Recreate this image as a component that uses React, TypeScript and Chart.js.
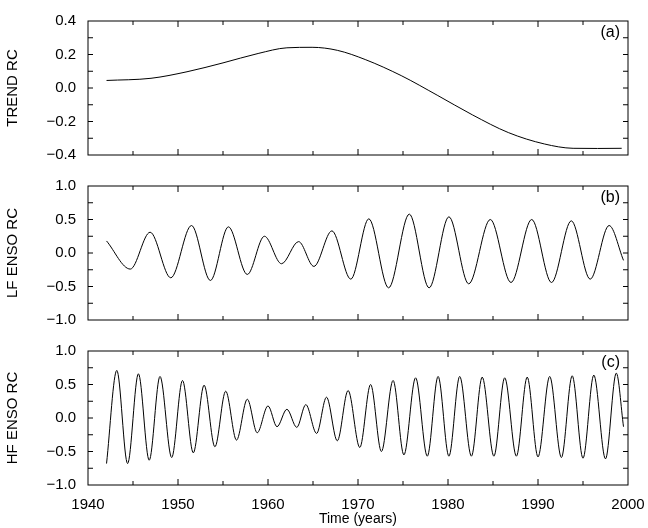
import React, { useRef, useEffect } from 'react';
import Chart from 'chart.js/auto';

// panel (a) trend
const trendYears = [1942.06, 1947.0, 1951.0, 1955.0, 1958.9, 1962.1, 1964.9, 1967.7, 1970.8, 1974.8, 1978.8, 1982.7, 1986.7, 1990.7, 1993.9, 1996.6, 1999.3];
const trendValues = [0.045, 0.058, 0.097, 0.15, 0.206, 0.24, 0.243, 0.225, 0.17, 0.074, -0.043, -0.16, -0.266, -0.334, -0.36, -0.361, -0.36];

// panel (b) low-frequency ENSO, turning points
const lfYears = [1942.06, 1944.7, 1946.9, 1949.2, 1951.5, 1953.6, 1955.6, 1957.7, 1959.6, 1961.5, 1963.4, 1965.1, 1967.1, 1969.2, 1971.2, 1973.4, 1975.7, 1977.9, 1980.1, 1982.3, 1984.7, 1987.0, 1989.3, 1991.5, 1993.7, 1995.8, 1997.9, 1999.5];
const lfValues = [0.18, -0.24, 0.31, -0.37, 0.41, -0.41, 0.39, -0.32, 0.25, -0.16, 0.17, -0.2, 0.33, -0.39, 0.51, -0.52, 0.58, -0.52, 0.54, -0.46, 0.5, -0.44, 0.5, -0.44, 0.48, -0.39, 0.41, -0.11];

// panel (c) high-frequency ENSO, turning points
const hfYears = [1942.06, 1943.2, 1944.4, 1945.6, 1946.8, 1948.0, 1949.3, 1950.5, 1951.7, 1952.9, 1954.1, 1955.3, 1956.5, 1957.7, 1958.8, 1960.0, 1961.0, 1962.1, 1963.2, 1964.2, 1965.4, 1966.5, 1967.7, 1968.9, 1970.2, 1971.4, 1972.6, 1973.9, 1975.1, 1976.4, 1977.7, 1978.9, 1980.1, 1981.3, 1982.6, 1983.8, 1985.1, 1986.3, 1987.6, 1988.8, 1990.0, 1991.3, 1992.6, 1993.8, 1995.0, 1996.2, 1997.5, 1998.7, 1999.5];
const hfValues = [-0.68, 0.71, -0.68, 0.66, -0.63, 0.62, -0.59, 0.56, -0.52, 0.49, -0.43, 0.4, -0.33, 0.28, -0.22, 0.18, -0.13, 0.13, -0.14, 0.2, -0.23, 0.31, -0.34, 0.41, -0.44, 0.5, -0.5, 0.56, -0.55, 0.6, -0.57, 0.62, -0.57, 0.62, -0.57, 0.61, -0.57, 0.6, -0.57, 0.61, -0.58, 0.62, -0.59, 0.63, -0.6, 0.64, -0.61, 0.67, -0.13];

const FONT = '"Liberation Sans", Arial, sans-serif';

const fmt = (v: number) => (v < 0 ? '\u2212' : '') + Math.abs(v).toFixed(1);

const frame = {
  id: 'frame',
  afterDatasetsDraw(chart: any, _a: any, opts: any) {
    const { ctx, chartArea: a, scales } = chart;
    ctx.save();
    ctx.strokeStyle = '#000';
    ctx.lineWidth = 1;
    ctx.strokeRect(a.left, a.top, a.right - a.left, a.bottom - a.top);
    ctx.beginPath();
    for (let yr = 1945; yr < 2000; yr += 5) {
      const x = scales.x.getPixelForValue(yr);
      const len = yr % 10 === 0 ? 6 : 4;
      ctx.moveTo(x, a.bottom); ctx.lineTo(x, a.bottom - len);
      ctx.moveTo(x, a.top); ctx.lineTo(x, a.top + len);
    }
    const { min, max, step } = opts;
    for (let v = min + step; v < max - 1e-9; v += step) {
      const y = scales.y.getPixelForValue(v);
      ctx.moveTo(a.left, y); ctx.lineTo(a.left + 5, y);
      ctx.moveTo(a.right, y); ctx.lineTo(a.right - 5, y);
    }
    ctx.stroke();
    ctx.font = '16px ' + FONT;
    ctx.fillStyle = '#000';
    ctx.textAlign = 'right';
    ctx.textBaseline = 'top';
    ctx.fillText(opts.tag, a.right - 8, a.top + 4);
    ctx.restore();
  },
};

interface PanelProps {
  years: number[];
  values: number[];
  min: number;
  max: number;
  step: number;
  labelStep: number;
  title: string;
  tag: string;
  top: number;
  height: number;
  bottomAxis: boolean;
}

const Panel: React.FC<PanelProps> = (p) => {
  const ref = useRef<HTMLCanvasElement>(null);

  useEffect(() => {
    if (!ref.current) return;
    const chart = new Chart(ref.current, {
      type: 'line',
      data: {
        datasets: [{
          data: p.years.map((x, i) => ({ x, y: p.values[i] })),
          borderColor: '#000',
          borderWidth: 1,
          pointRadius: 0,
          cubicInterpolationMode: 'monotone',
          fill: false,
        }],
      },
      options: {
        animation: false,
        responsive: false,
        layout: { padding: { top: 0, right: 20, bottom: p.bottomAxis ? 0 : 10 } },
        plugins: {
          legend: { display: false },
          tooltip: { enabled: false },
          frame: { min: p.min, max: p.max, step: p.step, tag: p.tag },
        } as any,
        scales: {
          x: {
            type: 'linear',
            min: 1940,
            max: 2000,
            display: p.bottomAxis,
            grid: { display: false },
            border: { display: false },
            ticks: { stepSize: 10, color: '#000', font: { family: FONT, size: 15 }, padding: 3, callback: (v: any) => String(v) },
            title: { display: p.bottomAxis, text: 'Time (years)', color: '#000', font: { family: FONT, size: 14 }, padding: 0 },
            afterFit: (s: any) => { if (p.bottomAxis) s.height = 43; },
          },
          y: {
            min: p.min,
            max: p.max,
            grid: { display: false },
            border: { display: false },
            ticks: { stepSize: p.labelStep, color: '#000', font: { family: FONT, size: 15 }, padding: 4, callback: (v: any) => fmt(Number(v)) },
            title: { display: true, text: p.title, color: '#000', font: { family: FONT, size: 15 }, padding: 4 },
            afterFit: (s: any) => { s.width = 88; },
          },
        },
      },
      plugins: [frame],
    });
    return () => chart.destroy();
  }, []);

  return (
    <canvas
      ref={ref}
      width={648}
      height={p.height}
      style={{ position: 'absolute', left: 0, top: p.top, width: 648, height: p.height }}
    />
  );
};

export default function App() {
  useEffect(() => { document.body.style.margin = '0'; }, []);
  return (
    <div style={{ position: 'relative', width: 648, height: 528, background: '#fff' }}>
      <Panel years={trendYears} values={trendValues} min={-0.4} max={0.4} step={0.1} labelStep={0.2}
        title="TREND RC" tag="(a)" top={8} height={160} bottomAxis={false} />
      <Panel years={lfYears} values={lfValues} min={-1} max={1} step={0.25} labelStep={0.5}
        title="LF ENSO RC" tag="(b)" top={173} height={160} bottomAxis={false} />
      <Panel years={hfYears} values={hfValues} min={-1} max={1} step={0.25} labelStep={0.5}
        title="HF ENSO RC" tag="(c)" top={338} height={190} bottomAxis={true} />
    </div>
  );
}
